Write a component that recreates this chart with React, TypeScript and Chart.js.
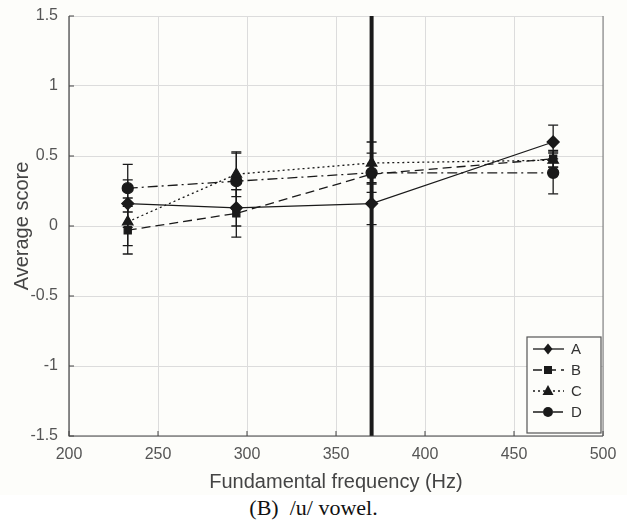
import React, { useEffect, useRef } from "react";
import { Chart, registerables } from "chart.js";
Chart.register(...registerables);

const frequencies = [233, 294, 370, 472];
const seriesLabels = ["A", "B", "C", "D"];
const seriesA = [0.16, 0.13, 0.16, 0.6];
const seriesB = [-0.03, 0.09, 0.37, 0.48];
const seriesC = [0.03, 0.37, 0.45, 0.47];
const seriesD = [0.27, 0.32, 0.38, 0.38];
const errA = [0.17, 0.13, 0.15, 0.12];
const errB = [0.17, 0.17, 3.5, 0.06];
const errC = [0.17, 0.16, 0.15, 0.05];
const errD = [0.17, 0.2, 0.14, 0.15];
const xTicks = [200, 250, 300, 350, 400, 450, 500];
const yTicks = [-1.5, -1, -0.5, 0, 0.5, 1, 1.5];

const INK = "#1a1a1a";
const FONT = "'Liberation Sans', Arial, Helvetica, sans-serif";

const errorBarPlugin = {
  id: "errorBars",
  beforeDatasetsDraw(chart: any) {
    const { ctx, chartArea } = chart;
    const xs = chart.scales.x;
    const ys = chart.scales.y;
    ctx.save();
    ctx.beginPath();
    ctx.rect(chartArea.left, chartArea.top, chartArea.width, chartArea.height);
    ctx.clip();
    chart.data.datasets.forEach((ds: any) => {
      ds.data.forEach((pt: any, j: number) => {
        const e = ds.errors[j];
        const x = xs.getPixelForValue(pt.x);
        const yt = ys.getPixelForValue(pt.y + e);
        const yb = ys.getPixelForValue(pt.y - e);
        ctx.strokeStyle = INK;
        ctx.setLineDash([]);
        ctx.lineWidth = e > 1 ? 4 : 1.3;
        ctx.beginPath();
        ctx.moveTo(x, yt);
        ctx.lineTo(x, yb);
        ctx.stroke();
        ctx.lineWidth = 1.3;
        ctx.beginPath();
        ctx.moveTo(x - 5, yt);
        ctx.lineTo(x + 5, yt);
        ctx.moveTo(x - 5, yb);
        ctx.lineTo(x + 5, yb);
        ctx.stroke();
      });
    });
    ctx.restore();
  },
};

const framePlugin = {
  id: "frame",
  afterDraw(chart: any) {
    const { ctx, chartArea } = chart;
    const xs = chart.scales.x;
    const ys = chart.scales.y;
    ctx.save();
    ctx.setLineDash([]);
    ctx.strokeStyle = "#444";
    ctx.lineWidth = 1.2;
    ctx.beginPath();
    ctx.moveTo(chartArea.left, chartArea.top);
    ctx.lineTo(chartArea.left, chartArea.bottom);
    ctx.lineTo(chartArea.right, chartArea.bottom);
    ctx.stroke();
    ctx.strokeStyle = "#777";
    ctx.lineWidth = 1;
    ctx.beginPath();
    ctx.moveTo(chartArea.right, chartArea.bottom);
    ctx.lineTo(chartArea.right, chartArea.top);
    ctx.stroke();
    ctx.strokeStyle = "#444";
    ctx.beginPath();
    xTicks.forEach((v) => {
      const x = xs.getPixelForValue(v);
      ctx.moveTo(x, chartArea.bottom);
      ctx.lineTo(x, chartArea.bottom - 5);
    });
    yTicks.forEach((v) => {
      const y = ys.getPixelForValue(v);
      ctx.moveTo(chartArea.left, y);
      ctx.lineTo(chartArea.left + 5, y);
    });
    ctx.stroke();

    // legend
    const w = 74;
    const h = 96;
    const right = chartArea.right - 2;
    const bottom = chartArea.bottom - 3;
    const left = right - w;
    const top = bottom - h;
    ctx.fillStyle = "#fdfdfa";
    ctx.fillRect(left, top, w, h);
    ctx.strokeStyle = "#555";
    ctx.lineWidth = 1.2;
    ctx.strokeRect(left, top, w, h);
    chart.data.datasets.forEach((ds: any, i: number) => {
      const y = top + 12 + i * 21;
      ctx.strokeStyle = INK;
      ctx.lineWidth = 1.3;
      ctx.setLineDash(ds.borderDash || []);
      ctx.beginPath();
      ctx.moveTo(left + 6, y);
      ctx.lineTo(left + 37, y);
      ctx.stroke();
      ctx.setLineDash([]);
      ctx.fillStyle = INK;
      const cx = left + 21;
      const r = 4.5;
      ctx.beginPath();
      if (ds.pointStyle === "rectRot") {
        ctx.moveTo(cx, y - r - 1);
        ctx.lineTo(cx + r, y);
        ctx.lineTo(cx, y + r + 1);
        ctx.lineTo(cx - r, y);
        ctx.closePath();
      } else if (ds.pointStyle === "rect") {
        ctx.rect(cx - 4, y - 4, 8, 8);
      } else if (ds.pointStyle === "triangle") {
        ctx.moveTo(cx, y - 6);
        ctx.lineTo(cx + 5.5, y + 4);
        ctx.lineTo(cx - 5.5, y + 4);
        ctx.closePath();
      } else {
        ctx.arc(cx, y, 5, 0, Math.PI * 2);
      }
      ctx.fill();
      ctx.fillStyle = "#333";
      ctx.font = `15px ${FONT}`;
      ctx.textAlign = "left";
      ctx.textBaseline = "middle";
      ctx.fillText(ds.label, left + 44, y + 1);
    });
    ctx.restore();
  },
};

export default function App() {
  const ref = useRef<HTMLCanvasElement>(null);
  useEffect(() => {
    if (!ref.current) return;
    const mk = (vals: number[]) => vals.map((v, i) => ({ x: frequencies[i], y: v }));
    const common = {
      borderColor: INK,
      backgroundColor: INK,
      pointBackgroundColor: INK,
      pointBorderColor: INK,
      borderWidth: 1.3,
      showLine: true,
      tension: 0,
    };
    const chart = new Chart(ref.current, {
      type: "scatter",
      data: {
        datasets: [
          { ...common, label: seriesLabels[0], data: mk(seriesA), errors: errA, pointStyle: "rectRot", pointRadius: 6, borderDash: [] },
          { ...common, label: seriesLabels[1], data: mk(seriesB), errors: errB, pointStyle: "rect", pointRadius: 5, borderDash: [9, 5] },
          { ...common, label: seriesLabels[2], data: mk(seriesC), errors: errC, pointStyle: "triangle", pointRadius: 6, borderDash: [2, 3] },
          { ...common, label: seriesLabels[3], data: mk(seriesD), errors: errD, pointStyle: "circle", pointRadius: 5.5, borderDash: [10, 4, 2, 4] },
        ] as any,
      },
      options: {
        animation: false,
        responsive: false,
        maintainAspectRatio: false,
        layout: { padding: { top: 16, right: 24, left: 10, bottom: 0 } },
        plugins: { legend: { display: false }, tooltip: { enabled: false } },
        scales: {
          x: {
            type: "linear",
            min: 200,
            max: 500,
            afterBuildTicks: (s: any) => { s.ticks = xTicks.map((v) => ({ value: v })); },
            afterFit: (s: any) => { s.height = 58; s.paddingLeft = 0; s.paddingRight = 0; },
            grid: { color: "#dcdcdc", drawTicks: false },
            border: { display: false },
            ticks: { color: "#555", font: { family: FONT, size: 16 }, padding: 9, callback: (v: any) => String(v) },
            title: { display: true, text: "Fundamental frequency (Hz)", color: "#444", font: { family: FONT, size: 20 }, padding: { top: 2, bottom: 0 } },
          },
          y: {
            type: "linear",
            min: -1.5,
            max: 1.5,
            afterBuildTicks: (s: any) => { s.ticks = yTicks.map((v) => ({ value: v })); },
            afterFit: (s: any) => { s.width = 59; s.paddingTop = 0; s.paddingBottom = 0; },
            grid: { color: "#dcdcdc", drawTicks: false },
            border: { display: false },
            ticks: { color: "#555", font: { family: FONT, size: 16 }, padding: 11, callback: (v: any) => String(v) },
            title: { display: true, text: "Average score", color: "#444", font: { family: FONT, size: 20 }, padding: { top: 0, bottom: 4 } },
          },
        },
      } as any,
      plugins: [errorBarPlugin, framePlugin],
    });
    return () => chart.destroy();
  }, []);
  return (
    <div style={{ position: "fixed", left: 0, top: 0, width: 627, height: 529, background: "#fff" }}>
      <div style={{ position: "absolute", left: 0, top: 0, width: 627, height: 495, background: "#fdfdfa" }}>
        <canvas ref={ref} width={627} height={494} style={{ display: "block" }} />
      </div>
      <div style={{ position: "absolute", left: 0, top: 495, width: 627, textAlign: "center", fontFamily: "'Liberation Serif', 'DejaVu Serif', serif", fontSize: 22, lineHeight: "26px", color: "#111" }}>
        (B)&nbsp; /u/ vowel.
      </div>
    </div>
  );
}
